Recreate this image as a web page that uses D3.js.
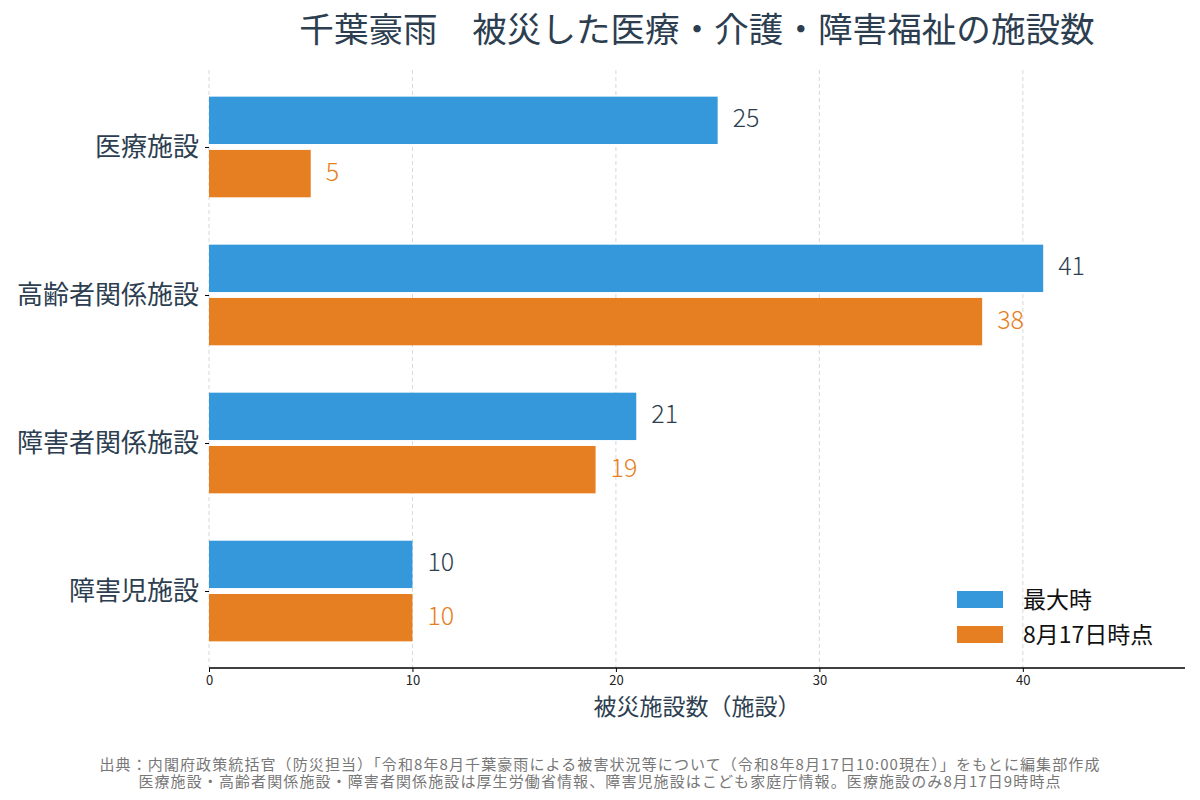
<!DOCTYPE html>
<html>
<head>
<meta charset="utf-8">
<script src="https://cdn.jsdelivr.net/npm/d3@7"></script>
<style>
    body { margin: 0; background: #fff; }
    svg text { font-family: "Noto Sans CJK JP", "Noto Sans", sans-serif; }
</style>
</head>
<body>
<div id="chart"></div>
<script>
// Data
const categories = ['医療施設', '高齢者関係施設', '障害者関係施設', '障害児施設'];
const seriesNames = ['最大時', '8月17日時点'];
const peakValues = [25, 41, 21, 10];
const aug17Values = [5, 38, 19, 10];
const xTicks = [0, 10, 20, 30, 40];

const titleText = '千葉豪雨　被災した医療・介護・障害福祉の施設数';
const xLabelText = '被災施設数（施設）';
const sourceLines = [
    '出典：内閣府政策統括官（防災担当）「令和8年8月千葉豪雨による被害状況等について（令和8年8月17日10:00現在）」をもとに編集部作成',
    '医療施設・高齢者関係施設・障害者関係施設は厚生労働省情報、障害児施設はこども家庭庁情報。医療施設のみ8月17日9時時点'
];

const colors = ['#3498db', '#e67e22'];
const textColor = '#2c3e50';

const width = 1200, height = 800;
const margin = { top: 70, right: 15, bottom: 132, left: 209 };
const innerWidth = width - margin.left - margin.right;
const innerHeight = height - margin.top - margin.bottom;

const svg = d3.select('#chart')
    .append('svg')
    .attr('width', width)
    .attr('height', height);

const g = svg.append('g')
    .attr('transform', `translate(${margin.left},${margin.top})`);

// Scales
const xScale = d3.scaleLinear()
    .domain([0, d3.max(peakValues) * 1.17])
    .range([0, innerWidth]);

const yScale = d3.scalePoint()
    .domain(categories)
    .range([0, innerHeight])
    .padding(0.52);

const step = yScale.step();
const barH = step * 0.32;
const offset = step * 0.18;

// Grid lines (vertical, dashed)
g.append('g')
    .selectAll('line')
    .data(xTicks)
    .enter()
    .append('line')
    .attr('x1', d => xScale(d))
    .attr('x2', d => xScale(d))
    .attr('y1', 0)
    .attr('y2', innerHeight)
    .attr('stroke', '#b0b0b0')
    .attr('stroke-width', 0.8)
    .attr('stroke-dasharray', '4,3')
    .style('opacity', 0.6);

// Bars
const series = [peakValues, aug17Values];
series.forEach((vals, si) => {
    const dy = si === 0 ? -offset : offset;
    g.selectAll(`.bar-${si}`)
        .data(vals)
        .enter()
        .append('rect')
        .attr('class', `bar-${si}`)
        .attr('x', xScale(0))
        .attr('y', (d, i) => yScale(categories[i]) + dy - barH / 2)
        .attr('width', d => xScale(d) - xScale(0))
        .attr('height', barH)
        .attr('fill', colors[si]);

    g.selectAll(`.label-${si}`)
        .data(vals)
        .enter()
        .append('text')
        .attr('class', `label-${si}`)
        .attr('x', d => xScale(d) + 15)
        .attr('y', (d, i) => yScale(categories[i]) + dy + 7)
        .style('font-size', '25px')
        .style('font-weight', 300)
        .style('fill', si === 0 ? textColor : colors[1])
        .text(d => d);
});

// X axis
const xAxis = g.append('g')
    .attr('transform', `translate(0,${innerHeight})`)
    .call(d3.axisBottom(xScale).tickValues(xTicks).tickSize(4).tickPadding(4));
xAxis.select('.domain').attr('stroke', '#000').attr('stroke-width', 1.5)
    .attr('d', `M0,0H${innerWidth}`);
xAxis.selectAll('.tick text').style('font-size', '13px').style('fill', '#222');

// Y axis (ticks and labels only)
const yAxis = g.append('g')
    .call(d3.axisLeft(yScale).tickSize(4).tickPadding(6));
yAxis.select('.domain').remove();
yAxis.selectAll('.tick text').style('font-size', '26px').style('fill', textColor);

// Title
svg.append('text')
    .attr('x', margin.left + innerWidth / 2)
    .attr('y', 42)
    .attr('text-anchor', 'middle')
    .style('font-size', '34.6px')
    .style('fill', textColor)
    .text(titleText);

// X axis label
svg.append('text')
    .attr('x', margin.left + innerWidth / 2)
    .attr('y', 715)
    .attr('text-anchor', 'middle')
    .style('font-size', '23px')
    .style('fill', textColor)
    .text(xLabelText);

// Legend
const legend = svg.append('g')
    .attr('transform', 'translate(957,591)');
seriesNames.forEach((name, i) => {
    legend.append('rect')
        .attr('x', 0)
        .attr('y', i * 35)
        .attr('width', 46)
        .attr('height', 17)
        .attr('fill', colors[i]);
    legend.append('text')
        .attr('x', 66)
        .attr('y', i * 35 + 17)
        .style('font-size', '23px')
        .style('fill', '#111')
        .text(name);
});

// Source note
svg.append('g')
    .selectAll('text')
    .data(sourceLines)
    .enter()
    .append('text')
    .attr('x', width / 2)
    .attr('y', (d, i) => 770 + i * 17)
    .attr('text-anchor', 'middle')
    .style('font-size', '15px')
    .style('letter-spacing', '1.1px')
    .style('fill', '#777')
    .text(d => d);
</script>
</body>
</html>
